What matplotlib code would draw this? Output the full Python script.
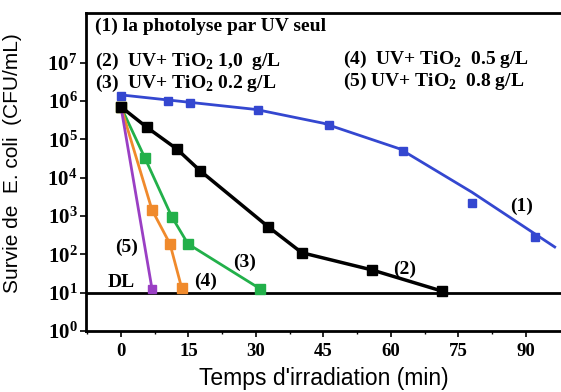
import numpy as np
import matplotlib
matplotlib.use('Agg')
import matplotlib.pyplot as plt
from matplotlib.ticker import FixedLocator, LogLocator, NullFormatter

# temps (min) et survie (log10 CFU/mL)
t1 = [0, 10.5, 15.3, 30.4, 46.2, 62.7, 78, 92]
s1 = [6.12, 5.99, 5.96, 5.77, 5.38, 4.70, 3.34, 2.45]
# tracé lissé de la courbe (1)
t1_line = [0, 15, 30, 45, 62, 78, 96.4]
s1_line = [6.16, 5.97, 5.78, 5.42, 4.75, 3.62, 2.19]

t2 = [0, 5.8, 12.4, 17.6, 32.7, 40.2, 55.8, 71.3]
s2 = [5.85, 5.31, 4.75, 4.18, 2.72, 2.04, 1.59, 1.04]

t3 = [0, 5.3, 11.3, 14.9, 30.9]
s3 = [5.85, 4.52, 2.98, 2.27, 1.1]

t4 = [0, 6.9, 10.9, 13.5]
s4 = [5.85, 3.16, 2.27, 1.12]

t5 = [0, 6.9]
s5 = [5.85, 1.1]

DL = 10
xticks = [0, 15, 30, 45, 60, 75, 90]

blue = '#3447d0'
green = '#22b04a'
orange = '#f08a2c'
purple = '#9a3fc4'

plt.rcParams['font.family'] = ['Liberation Serif', 'DejaVu Serif']
plt.rcParams['mathtext.fontset'] = 'custom'
plt.rcParams['mathtext.rm'] = 'Liberation Serif'
plt.rcParams['mathtext.bf'] = 'Liberation Serif:bold'

fig = plt.figure(figsize=(5.61, 3.92), dpi=100)
ax = fig.add_axes([0.153, 0.156, 0.847, 0.811])

ax.plot(t1_line, 10 ** np.array(s1_line), color=blue, lw=2, zorder=3)
ax.plot(t1, 10 ** np.array(s1), 's', color=blue, ms=6, zorder=4)

ax.plot(t2, 10 ** np.array(s2), '-s', color='black', lw=2.5, ms=7, zorder=5)
ax.plot(t3, 10 ** np.array(s3), '-s', color=green, lw=2, ms=6.5, zorder=4)
ax.plot(t4, 10 ** np.array(s4), '-s', color=orange, lw=2, ms=6.5, zorder=4)
ax.plot(t5, 10 ** np.array(s5), '-s', color=purple, lw=2, ms=5.5, zorder=4)

ax.axhline(DL, color='black', lw=2, zorder=2)

ax.set_yscale('log')
ax.set_xlim(-7.8, 97.8)
ax.set_ylim(1, 10 ** 8.3)

ax.set_xticks(xticks)
ax.xaxis.set_minor_locator(FixedLocator(np.arange(-7.5, 97, 7.5)))
ax.yaxis.set_major_locator(FixedLocator([10 ** k for k in range(8)]))
ax.yaxis.set_minor_locator(LogLocator(base=10, subs=np.arange(2, 10)))
ax.yaxis.set_minor_formatter(NullFormatter())
ax.set_yticklabels([r'$\mathbf{10^{%d}}$' % k for k in range(8)])

ax.tick_params(axis='both', which='major', length=4, width=1.2)
ax.tick_params(axis='y', which='major', labelsize=15, pad=2)
ax.tick_params(axis='x', which='major', labelsize=13.5, pad=5)
ax.tick_params(axis='both', which='minor', length=2, width=1)
for lab in ax.get_xticklabels():
    lab.set_fontweight('bold')

for sp in ['left', 'bottom', 'top']:
    ax.spines[sp].set_linewidth(2)
ax.spines['right'].set_visible(False)

ax.set_xlabel("Temps d'irradiation (min)", family='Liberation Sans', fontsize=16.5, labelpad=5)
ax.set_ylabel('Survie de  E. coli  (CFU/mL)', family='Liberation Sans', fontsize=15)
ax.yaxis.set_label_coords(-0.135, 0.528)

# légende écrite dans le cadre
kw = dict(transform=ax.transAxes, fontsize=14, fontweight='bold', va='center')
ax.text(0.02, 0.958, '(1) la photolyse par UV seul', **kw)
ax.text(0.02, 0.847, r'(2)  UV+ TiO$_\mathbf{2}$ 1,0  g/L', **kw)
ax.text(0.02, 0.777, r'(3)  UV+ TiO$_\mathbf{2}$ 0.2 g/L', **kw)
ax.text(0.541, 0.855, r'(4)  UV+ TiO$_\mathbf{2}$  0.5 g/L', **kw)
ax.text(0.541, 0.783, r'(5) UV+ TiO$_\mathbf{2}$  0.8 g/L', **kw)

kw2 = dict(fontsize=14, fontweight='bold', ha='center', va='center')
ax.text(89, 10 ** 3.25, '(1)', **kw2)
ax.text(63, 10 ** 1.6, '(2)', **kw2)
ax.text(27.5, 10 ** 1.8, '(3)', **kw2)
ax.text(18.8, 10 ** 1.3, '(4)', **kw2)
ax.text(1.3, 10 ** 2.18, '(5)', **kw2)
ax.text(0, 10 ** 1.27, 'DL', **kw2)

fig.savefig('out.png', dpi=100)
